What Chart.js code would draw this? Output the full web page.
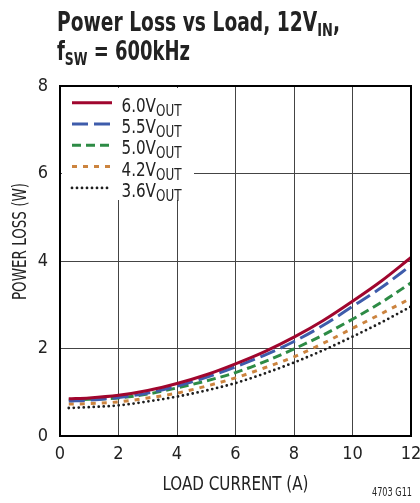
<!DOCTYPE html>
<html><head><meta charset="utf-8">
<script src="https://cdn.jsdelivr.net/npm/chart.js@4"></script>
<style>html,body{margin:0;padding:0;background:#fff;}#wrap{position:relative;width:420px;height:503px;}</style>
</head><body><div id="wrap"><canvas id="c" width="420" height="503"></canvas></div>
<script>
const loadCurrent = [0.3, 1, 2, 3, 4, 5, 6, 7, 8, 9, 10, 11, 12];
const loss60 = [0.85, 0.87, 0.93, 1.04, 1.20, 1.40, 1.65, 1.93, 2.26, 2.64, 3.08, 3.55, 4.08];
const loss55 = [0.80, 0.82, 0.88, 0.98, 1.14, 1.34, 1.58, 1.85, 2.16, 2.53, 2.96, 3.40, 3.90];
const loss50 = [0.83, 0.84, 0.87, 0.96, 1.10, 1.26, 1.45, 1.70, 1.99, 2.31, 2.67, 3.06, 3.50];
const loss42 = [0.73, 0.74, 0.78, 0.87, 0.98, 1.14, 1.33, 1.56, 1.81, 2.12, 2.46, 2.80, 3.15];
const loss36 = [0.64, 0.66, 0.70, 0.79, 0.90, 1.04, 1.21, 1.43, 1.68, 1.96, 2.27, 2.60, 2.96];
const seriesVolts = ['6.0', '5.5', '5.0', '4.2', '3.6'];
const xTickValues = [0, 2, 4, 6, 8, 10, 12];
const yTickValues = [0, 2, 4, 6, 8];

const NARROW = '"Liberation Sans Narrow", "DejaVu Sans Condensed", "Arial Narrow", sans-serif';
const styles = [
  {color: '#a0062e', dash: [], width: 3, cap: 'butt'},
  {color: '#3e5cab', dash: [16, 6], width: 3, cap: 'butt'},
  {color: '#2d8b45', dash: [9, 5], width: 3, cap: 'butt'},
  {color: '#cc843f', dash: [5, 6], width: 3, cap: 'butt'},
  {color: '#1e1e1e', dash: [0, 5], width: 2.8, cap: 'round'}
];
const seriesData = [loss60, loss55, loss50, loss42, loss36];

const datasets = seriesData.map((arr, i) => ({
  label: seriesVolts[i] + 'VOUT',
  data: loadCurrent.map((x, j) => ({x: x, y: arr[j]})),
  borderColor: styles[i].color,
  borderDash: styles[i].dash,
  borderWidth: styles[i].width,
  borderCapStyle: styles[i].cap,
  pointRadius: 0,
  fill: false,
  cubicInterpolationMode: 'monotone'
}));

function fontStr(p) { return (p.bold ? 'bold ' : '') + p.size + 'px ' + NARROW; }
function drawRich(ctx, parts, x, y, targetW, align) {
  let w = 0;
  parts.forEach(p => { ctx.font = fontStr(p); p.w = ctx.measureText(p.t).width; w += p.w; });
  const sx = targetW ? targetW / w : 1;
  ctx.save();
  ctx.textAlign = 'left';
  ctx.textBaseline = 'alphabetic';
  let startX = x;
  if (align === 'right') startX = x - w * sx;
  if (align === 'center') startX = x - w * sx / 2;
  ctx.translate(startX, y);
  ctx.scale(sx, 1);
  let cx = 0;
  parts.forEach(p => { ctx.font = fontStr(p); ctx.fillText(p.t, cx, p.dy || 0); cx += p.w; });
  ctx.restore();
}

const annot = {
  id: 'annot',
  afterDatasetsDraw(chart) {
    const ctx = chart.ctx;
    const a = chart.chartArea;
    ctx.save();
    ctx.strokeStyle = '#000';
    ctx.lineWidth = 2;
    ctx.strokeRect(a.left, a.top, a.right - a.left, a.bottom - a.top);
    ctx.restore();
    ctx.save();
    ctx.fillStyle = '#fff';
    ctx.fillRect(a.left + 2, a.top + 2, 132, 112);
    const rowY0 = a.top + 16.7, rowGap = 21.3;
    seriesVolts.forEach((v, i) => {
      const y = rowY0 + i * rowGap;
      const s = styles[i];
      ctx.beginPath();
      ctx.strokeStyle = s.color;
      ctx.lineWidth = s.width;
      ctx.lineCap = s.cap;
      ctx.setLineDash(s.dash);
      ctx.moveTo(a.left + 12, y);
      ctx.lineTo(a.left + 52, y);
      ctx.stroke();
      ctx.setLineDash([]);
      ctx.fillStyle = '#222';
      drawRich(ctx, [
        {t: v + 'V', size: 19},
        {t: 'OUT', size: 15, dy: 4}
      ], a.left + 61.5, y + 9, 60);
    });
    ctx.restore();
  },
  afterDraw(chart) {
    const ctx = chart.ctx;
    const a = chart.chartArea;
    ctx.save();
    ctx.fillStyle = '#222';
    drawRich(ctx, [
      {t: 'Power Loss vs Load, 12V', size: 26, bold: true},
      {t: 'IN', size: 18, bold: true, dy: 5},
      {t: ',', size: 26, bold: true}
    ], 57, 31, 283);
    drawRich(ctx, [
      {t: 'f', size: 26, bold: true},
      {t: 'SW', size: 18, bold: true, dy: 5},
      {t: ' = 600kHz', size: 26, bold: true}
    ], 57, 60, 133);
    drawRich(ctx, [{t: 'LOAD CURRENT (A)', size: 19}], (a.left + a.right) / 2, 490, 146, 'center');
    ctx.save();
    ctx.translate(25.5, 241.5);
    ctx.rotate(-Math.PI / 2);
    drawRich(ctx, [{t: 'POWER LOSS (W)', size: 19}], 0, 0, 117, 'center');
    ctx.restore();
    drawRich(ctx, [{t: '4703 G11', size: 12}], 412, 496, 40, 'right');
    ctx.restore();
  }
};

new Chart(document.getElementById('c'), {
  type: 'line',
  data: {datasets: datasets},
  options: {
    responsive: false,
    animation: false,
    devicePixelRatio: 1,
    layout: {padding: {top: 86, right: 9, left: 0, bottom: 0}},
    plugins: {legend: {display: false}, tooltip: {enabled: false}, title: {display: false}},
    scales: {
      x: {
        type: 'linear', min: 0, max: 12,
        afterBuildTicks: s => { s.ticks = xTickValues.map(v => ({value: v})); },
        afterFit: s => { s.height = 67; s.paddingLeft = 0; s.paddingRight = 0; },
        ticks: {font: {family: NARROW, size: 18}, color: '#222', padding: 8, maxRotation: 0},
        grid: {color: '#444', lineWidth: 1, drawTicks: false},
        border: {display: true, color: '#000', width: 2}
      },
      y: {
        type: 'linear', min: 0, max: 8,
        afterBuildTicks: s => { s.ticks = yTickValues.map(v => ({value: v})); },
        afterFit: s => { s.width = 60; s.paddingTop = 0; s.paddingBottom = 0; },
        ticks: {font: {family: NARROW, size: 18}, color: '#222', padding: 12},
        grid: {color: '#444', lineWidth: 1, drawTicks: false},
        border: {display: true, color: '#000', width: 2}
      }
    }
  },
  plugins: [annot]
});
</script>
</body></html>
